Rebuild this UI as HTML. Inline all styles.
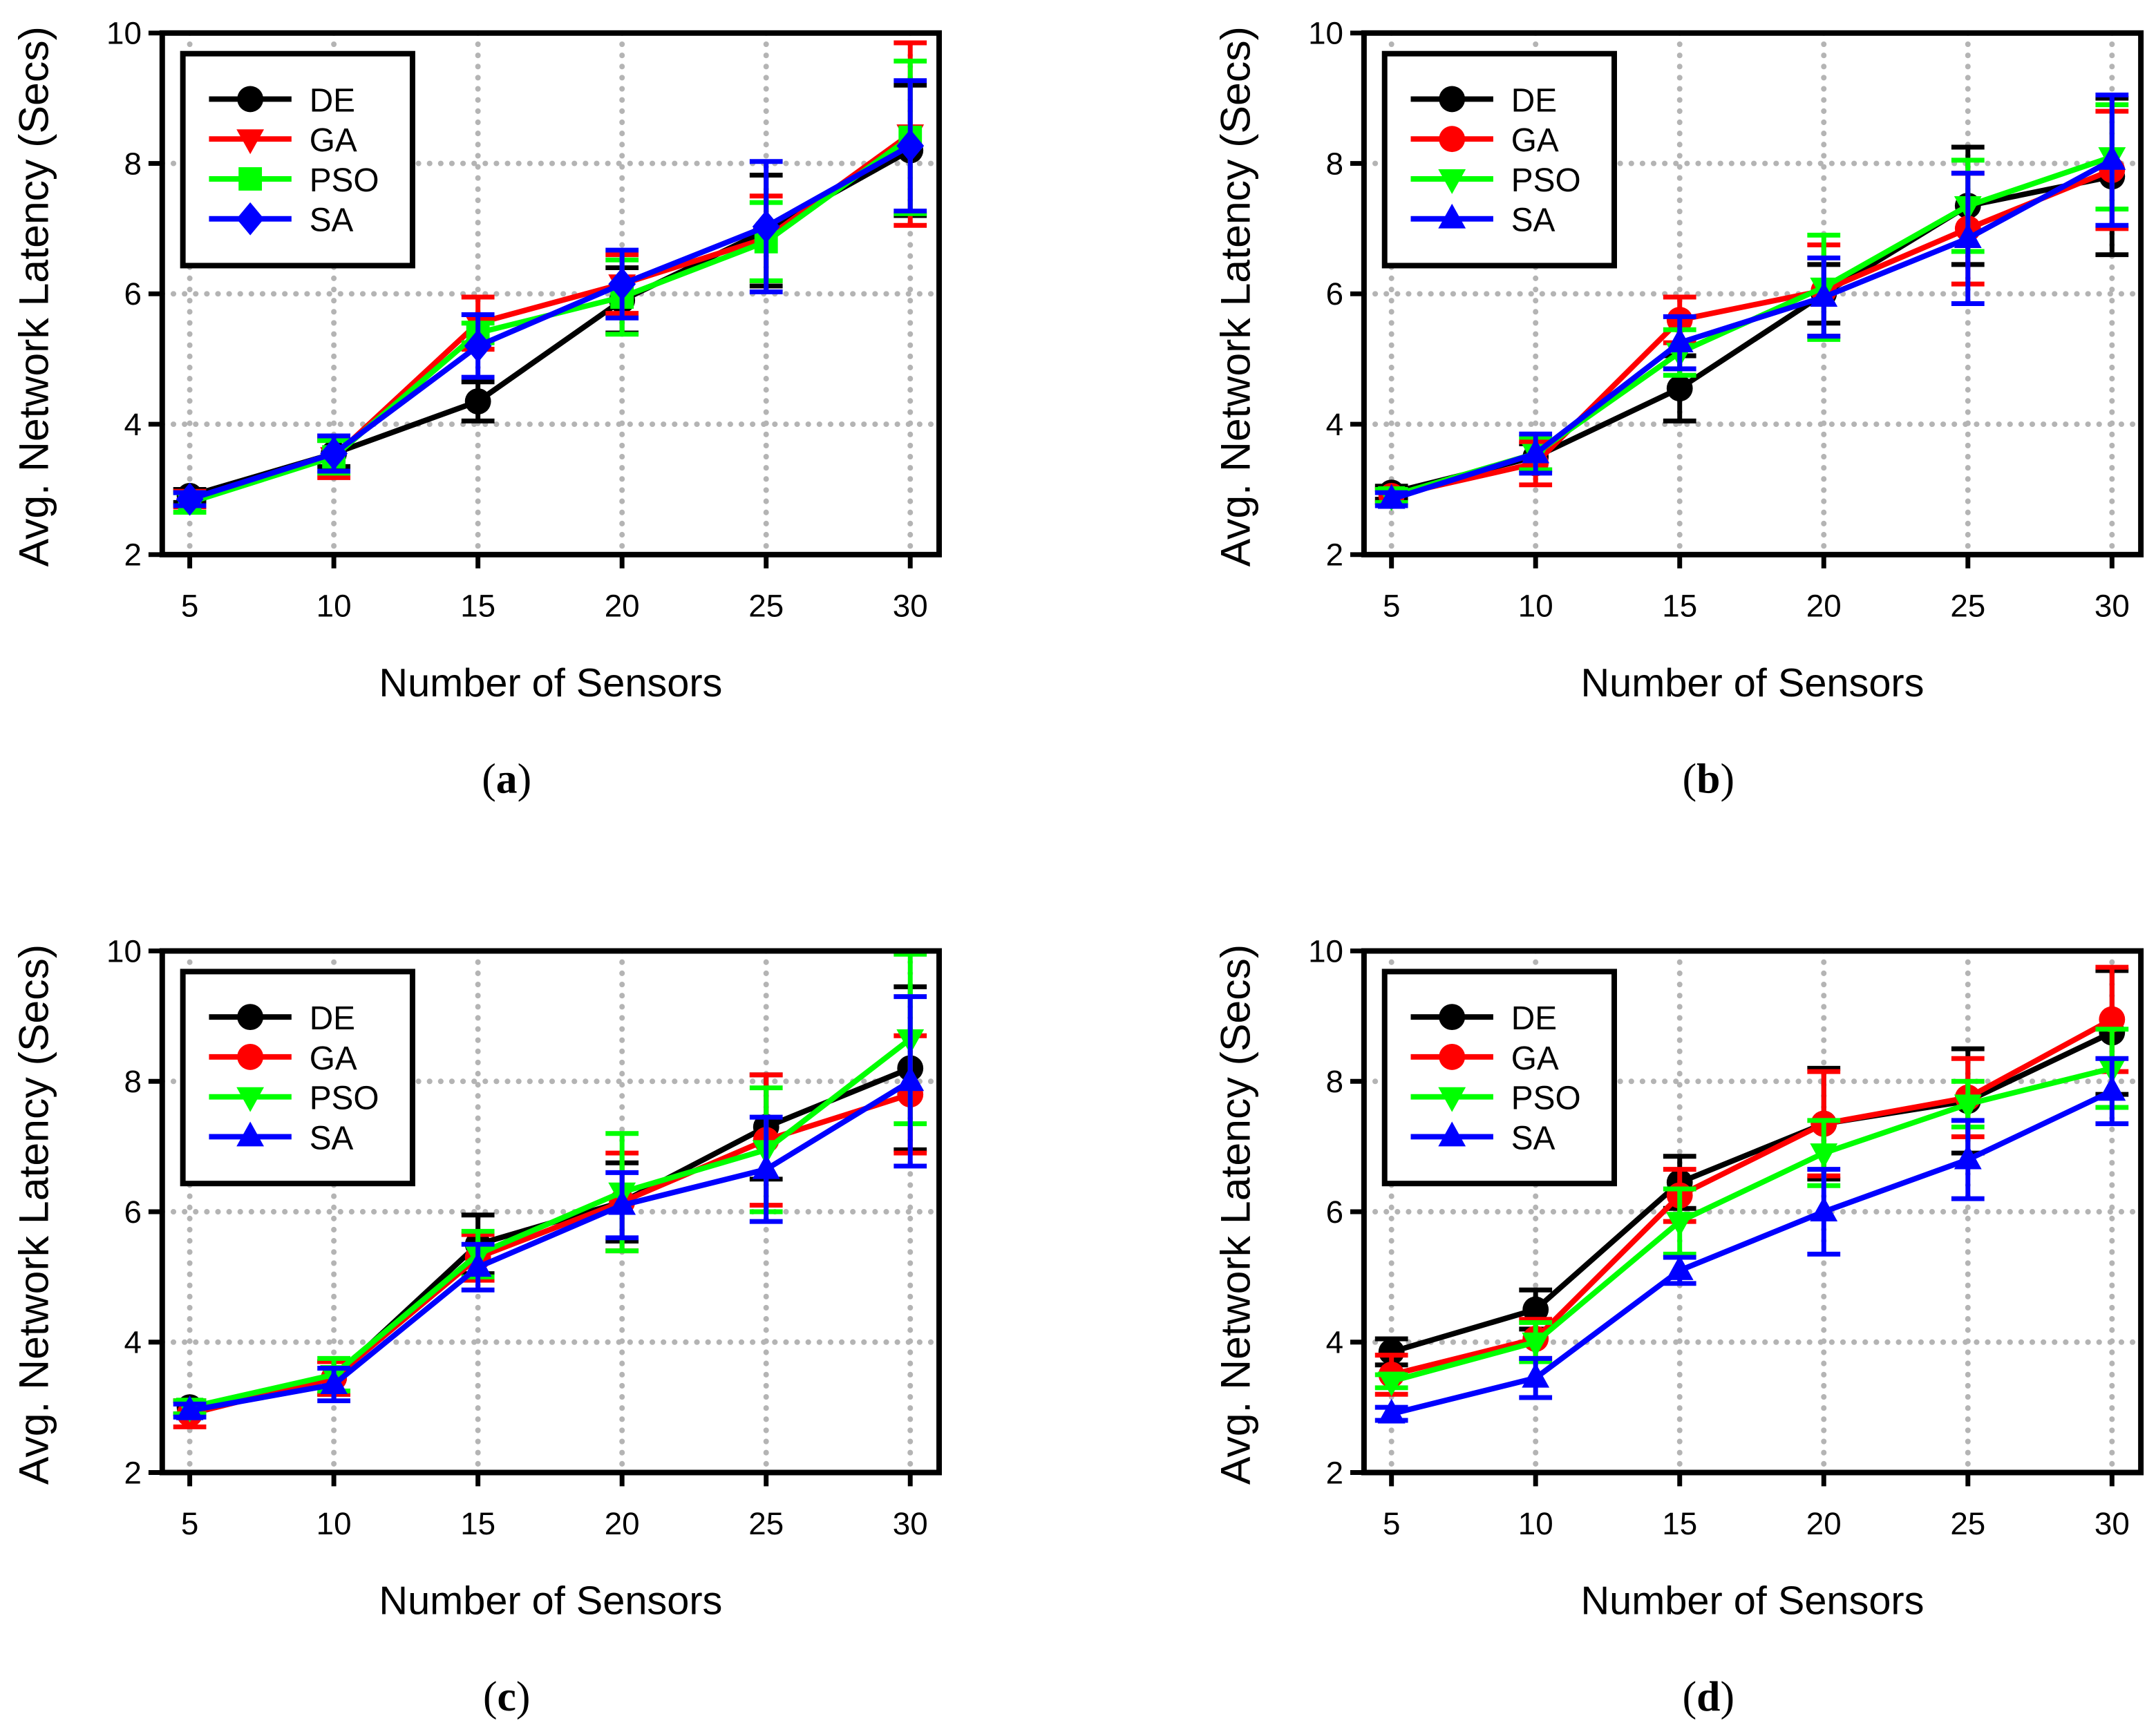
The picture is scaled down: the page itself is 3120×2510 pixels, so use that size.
<!DOCTYPE html>
<html><head><meta charset="utf-8"><style>
html,body{margin:0;padding:0;background:#fff;}
svg{display:block;}
text{font-family:"Liberation Sans",sans-serif;}
</style></head><body>
<svg id="chart" width="3120" height="2510" viewBox="0 0 1568 1260" preserveAspectRatio="none" xmlns="http://www.w3.org/2000/svg"></svg>
<script>
const categories = [5, 10, 15, 20, 25, 30];
const yTicks = [2, 4, 6, 8, 10];
const seriesNames = ["DE", "GA", "PSO", "SA"];
const panelLabels = ["a", "b", "c", "d"];
// panel a
const aDE = [2.9, 3.55, 4.35, 5.9, 6.97, 8.2];
const aGA = [2.85, 3.5, 5.55, 6.15, 6.85, 8.45];
const aPSO = [2.8, 3.5, 5.4, 5.95, 6.8, 8.4];
const aSA = [2.85, 3.55, 5.2, 6.15, 7.03, 8.27];
const aDEerr = [0.1, 0.2, 0.3, 0.5, 0.85, 1.0];
const aGAerr = [0.12, 0.32, 0.4, 0.45, 0.65, 1.4];
const aPSOerr = [0.15, 0.25, 0.15, 0.57, 0.6, 1.17];
const aSAerr = [0.1, 0.27, 0.48, 0.52, 1.0, 1.0];
// panel b
const bDE = [2.95, 3.5, 4.55, 6.0, 7.35, 7.8];
const bGA = [2.9, 3.4, 5.6, 6.05, 7.0, 7.9];
const bPSO = [2.9, 3.55, 5.1, 6.1, 7.35, 8.1];
const bSA = [2.85, 3.55, 5.25, 5.95, 6.85, 8.05];
const bDEerr = [0.1, 0.2, 0.5, 0.45, 0.9, 1.2];
const bGAerr = [0.1, 0.33, 0.35, 0.7, 0.85, 0.9];
const bPSOerr = [0.1, 0.25, 0.35, 0.8, 0.7, 0.8];
const bSAerr = [0.1, 0.3, 0.4, 0.6, 1.0, 1.0];
// panel c
const cDE = [3.0, 3.45, 5.5, 6.15, 7.3, 8.2];
const cGA = [2.9, 3.45, 5.3, 6.15, 7.1, 7.8];
const cPSO = [3.0, 3.5, 5.35, 6.3, 6.95, 8.65];
const cSA = [2.95, 3.35, 5.15, 6.1, 6.65, 8.0];
const cDEerr = [0.1, 0.25, 0.45, 0.6, 0.8, 1.25];
const cGAerr = [0.2, 0.25, 0.35, 0.75, 1.0, 0.9];
const cPSOerr = [0.1, 0.25, 0.35, 0.9, 0.95, 1.3];
const cSAerr = [0.1, 0.25, 0.35, 0.5, 0.8, 1.3];
// panel d
const dDE = [3.85, 4.5, 6.45, 7.35, 7.7, 8.75];
const dGA = [3.5, 4.05, 6.25, 7.35, 7.75, 8.95];
const dPSO = [3.4, 4.0, 5.85, 6.9, 7.65, 8.2];
const dSA = [2.9, 3.45, 5.1, 6.0, 6.8, 7.85];
const dDEerr = [0.2, 0.3, 0.4, 0.85, 0.8, 0.95];
const dGAerr = [0.3, 0.3, 0.4, 0.8, 0.6, 0.8];
const dPSOerr = [0.1, 0.3, 0.5, 0.5, 0.35, 0.6];
const dSAerr = [0.1, 0.3, 0.2, 0.65, 0.6, 0.5];

const panelValues = [[aDE,aGA,aPSO,aSA],[bDE,bGA,bPSO,bSA],[cDE,cGA,cPSO,cSA],[dDE,dGA,dPSO,dSA]];
const panelErrors = [[aDEerr,aGAerr,aPSOerr,aSAerr],[bDEerr,bGAerr,bPSOerr,bSAerr],[cDEerr,cGAerr,cPSOerr,cSAerr],[dDEerr,dGAerr,dPSOerr,dSAerr]];
const colors = ["#000000", "#ff0000", "#00ff00", "#0000ff"];
const markersA = ["circle", "tridown", "square", "diamond"];
const markersB = ["circle", "circle", "tridown", "triup"];

const NS = "http://www.w3.org/2000/svg";
const svg = document.getElementById("chart");
function mk(tag, attrs, parent) {
  const e = document.createElementNS(NS, tag);
  for (const k in attrs) e.setAttribute(k, attrs[k]);
  parent.appendChild(e);
  return e;
}
function marker(shape, cx, cy, color, parent) {
  const r = 9.5;
  let e;
  if (shape === "circle") e = mk("circle", {cx: cx, cy: cy, r: r, fill: color}, parent);
  else if (shape === "square") e = mk("rect", {x: cx - 8.5, y: cy - 8.5, width: 17, height: 17, fill: color}, parent);
  else if (shape === "diamond") e = mk("polygon", {points: `${cx},${cy-12} ${cx+10},${cy} ${cx},${cy+12} ${cx-10},${cy}`, fill: color}, parent);
  else if (shape === "tridown") e = mk("polygon", {points: `${cx-10},${cy-7} ${cx+10},${cy-7} ${cx},${cy+11}`, fill: color}, parent);
  else e = mk("polygon", {points: `${cx-10},${cy+7} ${cx+10},${cy+7} ${cx},${cy-11}`, fill: color}, parent);
  return e;
}
const offsets = [[0,0],[874,0],[0,667],[874,667]];
offsets.forEach((off, p) => {
  const L = 118 + off[0], T = 24 + off[1], W = 565, H = 379;
  const xS = v => L + 20 + (v - 5) / 25 * 524;
  const yS = v => T + H - (v - 2) / 8 * H;
  const g = mk("g", {}, svg);
  
  
  yTicks.slice(1, 4).forEach(t => {
    const gl = mk("line", {x1: L, x2: L + W, y1: yS(t), y2: yS(t), stroke: "#b4b4b4", "stroke-width": 4, "stroke-dasharray": "0.1 8", "stroke-linecap": "round"}, g);
    
    
  });
  categories.forEach(c => {
    const gl = mk("line", {x1: xS(c), x2: xS(c), y1: T, y2: T + H, stroke: "#b4b4b4", "stroke-width": 4, "stroke-dasharray": "0.1 8", "stroke-linecap": "round"}, g);
    
    
  });
  yTicks.forEach(t => {
    mk("line", {x1: L - 10, x2: L, y1: yS(t), y2: yS(t), stroke: "#000", "stroke-width": 3.5}, g);
    const tx = mk("text", {x: L - 15, y: yS(t) + 8, "text-anchor": "end", "font-size": 23}, g);
    tx.textContent = t;
    
    
  });
  categories.forEach(c => {
    mk("line", {x1: xS(c), x2: xS(c), y1: T + H, y2: T + H + 10, stroke: "#000", "stroke-width": 3.5}, g);
    const tx = mk("text", {x: xS(c), y: T + H + 45, "text-anchor": "middle", "font-size": 23}, g);
    tx.textContent = c;
    
    
  });
  const shapes = p === 0 ? markersA : markersB;
  panelValues[p].forEach((vals, s) => {
    const sg = mk("g", {}, g);
    
    
    const errs = panelErrors[p][s];
    vals.forEach((v, i) => {
      const x = xS(categories[i]), y1 = yS(v + errs[i]), y2 = yS(v - errs[i]);
      const eb = mk("path", {d: `M${x},${y1}V${y2}M${x-12},${y1}H${x+12}M${x-12},${y2}H${x+12}`, stroke: colors[s], "stroke-width": 3.5, fill: "none"}, sg);
      
      
    });
    const line = mk("polyline", {points: vals.map((v, i) => xS(categories[i]) + "," + yS(v)).join(" "), stroke: colors[s], "stroke-width": 4, fill: "none"}, sg);
    
    
    vals.forEach((v, i) => {
      const m = marker(shapes[s], xS(categories[i]), yS(v), colors[s], sg);
      
      
    });
  });
  const fr = mk("rect", {x: L, y: T, width: W, height: H, fill: "none", stroke: "#000", "stroke-width": 4}, g);
  
  
  const lx = L + 15, ly = T + 15;
  const lg = mk("g", {}, g);
  
  
  mk("rect", {x: lx, y: ly, width: 167, height: 154, fill: "#fff", stroke: "#000", "stroke-width": 4}, lg);
  seriesNames.forEach((n, s) => {
    const ey = ly + 33 + s * 29;
    const le = mk("g", {}, lg);
    
    
    mk("line", {x1: lx + 19, x2: lx + 79, y1: ey, y2: ey, stroke: colors[s], "stroke-width": 4}, le);
    marker(shapes[s], lx + 49, ey, colors[s], le);
    const t = mk("text", {x: lx + 92, y: ey + 9, "font-size": 24}, le);
    t.textContent = n;
  });
  const yt = mk("text", {x: 0, y: 0, "text-anchor": "middle", "font-size": 30.5, transform: `translate(${off[0] + 35},${T + H / 2 + 2}) rotate(-90)`}, g);
  yt.textContent = "Avg. Network Latency (Secs)";
  
  
  const xt = mk("text", {x: L + W / 2, y: T + H + 103, "text-anchor": "middle", "font-size": 29}, g);
  xt.textContent = "Number of Sensors";
  
  
  const cap = mk("text", {x: L + W / 2 - 32, y: T + H + 173, "text-anchor": "middle", "font-size": 31, style: "font-family:'Liberation Serif',serif"}, g);
  cap.innerHTML = '(<tspan font-weight="bold">' + panelLabels[p] + '</tspan>)';
  
  
});
</script>
</body></html>
